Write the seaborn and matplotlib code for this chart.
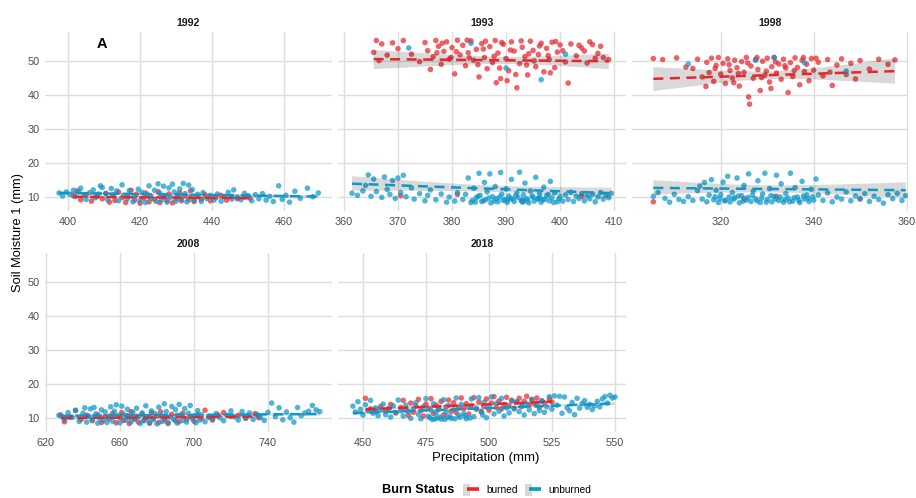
import matplotlib
matplotlib.use("Agg")
import matplotlib.pyplot as plt
import seaborn as sns
import pandas as pd
from matplotlib.lines import Line2D
from matplotlib.patches import Patch
from matplotlib.legend_handler import HandlerTuple

# ---------------- data ----------------
years = [1992, 1993, 1998, 2008, 2018]
statuses = ["burned", "unburned"]
x_label = "Precipitation (mm)"
y_label = "Soil Moisture 1 (mm)"
legend_title = "Burn Status"
y_ticks = [10, 20, 30, 40, 50]
x_ticks_1992 = [400, 420, 440, 460]
x_ticks_1993 = [360, 370, 380, 390, 400, 410]
x_ticks_1998 = [320, 340, 360]
x_ticks_2008 = [620, 660, 700, 740]
x_ticks_2018 = [450, 475, 500, 525, 550]

pts_1992_burned = [(401.5,10.4),(402.5,11.8),(403.5,9.2),(405,10.7),(406.5,8.8),(408,10.1),(409.5,9.5),(410.5,11.1),
    (411.5,8.5),(412.5,10.6),(413,9.0),(414,11.5),(415,9.8),(416,8.4),(416.5,10.3),(417.5,12.0),(418.5,9.1),(419,10.8),
    (420,8.2),(421,9.7),(421.5,11.2),(422.5,8.6),(423,10.2),(424,9.3),(425,11.6),(425.5,8.4),(426.5,10.0),(427.5,9.0),
    (428,10.9),(429,8.3),(430,9.6),(431,11.3),(431.5,8.9),(432.5,10.4),(433.5,9.2),(434,11.8),(435,8.7),(436,10.1),
    (437,9.4),(438,10.7),(439.5,8.9),(441,9.8),(442.5,10.5),(444,9.1),(445.5,10.2),(447,9.5),(449,10.0),(450.5,9.7)]
pts_1992_unburned = [(397.5,11.2),(398.5,10.3),(399.5,11.5),(400.5,10.8),(401.5,12.0),(402,10.1),(403,11.6),(403.5,12.6),
    (404.5,10.7),(405,9.3),(406,11.3),(407,12.1),(407.5,9.8),(408.5,10.9),(409,13.3),(409.5,12.8),(410.5,11.0),(411,9.2),
    (412,12.5),(412.5,10.4),(413.5,11.8),(414,8.9),(415,13.6),(415.5,10.6),(416.5,9.5),(417,11.9),(418,8.6),(418.5,10.2),
    (419.5,12.3),(420,9.0),(420.5,11.4),(421.5,8.4),(422,10.8),(422.5,13.3),(423,9.6),(424,12.0),(424.5,8.7),(425,13.9),
    (425.5,11.1),(426,9.2),(426.5,13.2),(427,10.3),(427.5,8.5),(428,12.7),(428.5,9.9),(429,13.8),(429.5,11.5),(430,8.8),
    (430.5,10.6),(431,12.4),(431.5,9.3),(432,14.0),(432.5,11.0),(433,8.6),(433.5,13.5),(434,10.1),(434.5,12.2),(435,9.0),
    (436,10.8),(437,8.7),(437.5,11.3),(438.5,9.6),(439.5,10.5),(440.5,9.1),(441.5,10.9),(442.5,8.8),(443.5,10.2),
    (444.5,11.4),(445.5,9.4),(446,12.1),(447,10.0),(448,9.2),(449,11.1),(450,10.4),(451,8.9),(452,10.7),(453,9.5),
    (454,11.0),(455,9.1),(456,10.2),(457,8.7),(458.5,13.3),(459.5,9.3),(460.5,10.5),(461.5,8.5),(463,11.7),(464.5,9.6),
    (466.5,12.6),(468,10.1),(469.5,11.2)]

pts_1993_burned = [(366,56.0),(365.5,52.5),(366.5,50.1),(367,55.0),(368,51.7),(369,55.3),(370,53.6),(371,56.0),
    (372.5,52.0),(374,49.8),(375,55.4),(375.5,53.0),(376,47.5),(376.5,51.2),(377,56.0),(377.5,54.3),(378,49.0),
    (378.5,52.8),(379,55.6),(379.5,50.5),(380,53.9),(380.5,46.2),(381,56.1),(381.5,51.8),(382,54.6),(382.5,48.6),
    (383,52.4),(383.5,55.9),(384,50.2),(384.5,53.4),(385,45.3),(385.5,55.1),(386,51.0),(386.5,47.7),(387,54.2),
    (387.5,49.5),(388,56.0),(388.5,52.3),(389,44.8),(389.5,54.9),(390,50.7),(390.5,47.1),(391,55.6),(391.5,52.9),
    (392,42.1),(392.5,49.2),(393,54.0),(393.5,51.3),(394,45.9),(394.5,55.8),(395,53.1),(395.5,48.3),(396,51.9),
    (396.5,55.2),(397,46.8),(397.5,53.7),(398,50.4),(398.5,55.5),(399,48.0),(399.5,52.6),(400,54.7),(401,49.7),
    (401.5,43.5),(402,55.0),(403,51.5),(404,53.8),(405,49.4),(406,54.8),(407,52.2),(408,51.0),(409,50.4),
    (378.2,55.2),(380.8,52.7),(383.2,50.9),(385.8,53.5),(387.8,51.4),(389.2,55.4),(390.8,53.2),(392.8,55.9),
    (394.2,52.1),(396.2,54.4),(397.8,51.6),(399.2,55.7),(400.5,53.0),(384.8,48.9),(388.8,47.9),(391.8,46.0),
    (393.8,48.8),(386.2,55.8),(382.8,56.1),(379.8,51.0),(377.2,52.4),(395.2,50.0),(398.2,46.5),(403.5,54.6),
    (388.2,43.6),(390.2,44.2),(405.5,55.6),(407.5,54.3),(406.5,50.8),(404.5,52.9),
    (370.5,10.4),(381,10.8),(393,9.0),(404,10.2)]
pts_1993_unburned = [(361.5,11.1),(362.5,10.5),(363.5,11.8),(364,13.4),(364.5,16.5),(365,10.2),(365.5,15.3),(366,11.6),
    (367,9.9),(367.5,15.9),(368,12.2),(368.5,10.8),(369,14.9),(369.5,9.6),(370,15.6),(370.5,11.3),(371,16.4),(371.5,10.1),
    (372.5,12.7),(373,9.4),(374,11.0),(375,8.9),(375.5,10.5),(376,12.1),(377,9.2),(378,10.9),(379,8.5),(379.5,10.0),
    (380.5,8.8),(381,11.3),
    (382,9.3),(382.5,10.8),(383,15.6),(383.5,8.4),(384,12.6),(384.5,9.8),(385,17.0),(385.2,10.5),(385.5,8.7),(386,14.3),
    (386.2,9.2),(386.5,11.5),(387,16.8),(387.2,8.3),(387.5,10.1),(388,13.1),(388.2,9.5),(388.5,8.6),(389,17.2),
    (389.2,10.8),(389.5,9.0),(390,12.4),(390.2,8.4),(390.5,10.3),(391,15.2),(391.2,9.4),(391.5,8.7),(392,11.1),
    (392.2,9.9),(392.5,17.3),(393,8.5),(393.2,10.6),(393.5,14.1),(394,9.1),(394.2,8.3),(394.5,11.8),(395,10.0),
    (395.2,8.8),(395.5,15.8),(396,9.6),(396.2,10.9),(396.5,8.5),(397,12.9),(397.2,9.3),(397.5,10.4),(398,8.9),
    (398.2,14.6),(398.5,9.8),(399,11.2),(399.5,8.6),(400,10.1),(383.8,9.0),(384.8,10.2),(386.8,9.7),(388.8,10.0),
    (390.8,9.6),(392.8,9.0),(394.8,10.3),(396.8,9.2),(385.8,8.9),(389.8,9.3),(391.8,10.4),(393.8,9.5),(395.8,9.4),
    (397.8,10.7),(399.8,9.5),(384.3,8.5),(387.8,8.8),(390.3,9.1),(393.3,8.7),(396.3,9.9),(398.8,8.4),
    (400.5,8.8),(401,10.6),(401.5,9.3),(402,11.4),(402.5,8.7),(403,10.2),(403.5,9.6),(404,11.0),(404.5,8.9),(405,10.3),
    (405.5,9.5),(406,10.9),(406.5,8.6),(407,10.0),(407.5,11.3),(408,9.4),(408.5,10.7),(409,9.8),(409.5,11.1),
    (372,53.8),(383.5,55.2),(390,47.9),(396.5,44.5),(401,52.0)]

pts_1998_burned = [(305.5,50.7),(307.5,50.4),(310.5,50.9),(312.5,48.2),(314,47.8),(315,50.5),(316,45.3),(317,49.6),
    (317.5,46.6),(318,50.8),(318.5,44.0),(319,48.7),(319.5,51.0),(320,46.1),(320.5,49.3),(321,43.4),(321.5,50.6),
    (322,47.2),(322.5,45.0),(323,50.2),(323.5,48.0),(324,42.6),(324.5,49.8),(325,46.7),(325.5,51.0),(326,39.4),
    (326.2,37.3),(326.5,48.5),(327,44.9),(327.5,50.4),(328,47.5),(328.5,41.3),(329,49.9),(329.5,45.8),(330,50.8),
    (330.5,43.8),(331,48.3),(331.5,51.0),(332,46.4),(332.5,49.1),(333,44.6),(333.5,50.5),(334,47.9),(334.5,40.7),
    (335,49.5),(335.5,45.4),(336,50.9),(336.5,48.1),(337,43.0),(337.5,50.2),(338,46.9),(338.5,49.0),(339,44.2),
    (339.5,50.7),(340,47.3),(341,49.6),(342,45.6),(343,50.4),(344,42.8),(345,48.8),(346,50.6),(347,46.0),(348,49.3),
    (349,44.7),(350,50.1),(352,47.6),(354,50.5),(356,49.0),(357.5,50.3),
    (318.8,47.8),(321.8,48.9),(323.8,46.3),(325.8,49.4),(327.8,51.0),(329.8,47.0),(331.8,49.7),(333.8,48.6),
    (335.8,47.2),(337.8,51.0),(322.8,43.6),(328.8,45.1),(330.8,41.9),(316.8,42.5),(340.5,50.8),(343.5,46.7),
    (305.5,8.6),(325,9.5),(332,10.2),(350,9.4)]
pts_1998_unburned = [(305.5,10.2),(306.5,11.3),(308,9.6),(309,8.5),(310,10.8),(311,9.3),(312,8.7),(313,10.1),(314,9.0),
    (315,11.9),(315.5,13.2),(316,9.4),(316.5,14.3),(317,8.6),(317.5,10.6),
    (318,15.1),(318.5,9.2),(319,12.0),(319.5,8.4),(320,10.7),(320.5,14.4),(321,9.0),(321.5,16.1),(322,8.6),(322.5,11.3),
    (323,9.8),(323.5,15.6),(324,8.3),(324.5,10.4),(325,13.4),(325.5,9.1),(326,16.8),(326.5,8.7),(327,11.7),(327.5,9.5),
    (328,14.8),(328.5,8.4),(329,10.9),(329.5,17.0),(330,9.3),(330.5,12.5),(331,8.6),(331.5,10.2),(332,16.4),(332.5,9.0),
    (333,13.9),(333.5,8.5),(334,11.0),(334.5,9.7),(335,17.0),(335.5,8.8),(336,12.8),(336.5,10.0),(337,8.4),(337.5,14.6),
    (338,9.4),(338.5,10.6),(339,8.7),(339.5,12.3),(340,9.1),(340.5,15.3),
    (318.8,10.1),(319.8,9.6),(320.8,8.9),(321.8,10.0),(322.8,9.4),(323.8,10.3),(324.8,8.8),(325.8,9.9),(326.8,10.5),
    (327.8,8.9),(328.8,9.7),(329.8,8.5),(330.8,10.4),(331.8,9.4),(332.8,10.0),(333.8,9.2),(334.8,8.6),(335.8,9.8),
    (336.8,9.0),(337.8,10.3),(338.8,9.6),(339.8,10.1),
    (341,10.6),(342,9.0),(343,11.2),(344,8.6),(345,10.0),(346,9.4),(347,11.5),(348,8.9),(349,10.3),(350,9.6),(351,11.0),
    (352,8.7),(353,10.2),(354,9.3),(355,8.2),(356,10.7),(357,9.5),(358,11.1),(359,9.0),(359.8,10.4),
    (313,49.1),(327.5,50.2),(331.5,51.0),(338,49.5),(347,47.0)]

pts_2008_burned = [(628,10.9),(630,8.9),(633,10.3),(636,12.2),(639,9.6),(642,10.8),(645,9.2),(648,11.0),(650,8.7),
    (652,10.4),(654,9.8),(656,11.3),(658,8.6),(660,10.1),(661,11.6),(662,9.3),(664,10.7),(665,8.4),(666,11.9),(668,9.7),
    (669,10.5),(670,8.8),(672,11.2),(673,9.4),(674,10.0),(676,8.5),(677,11.5),(678,9.9),(680,10.6),(681,8.7),(682,11.8),
    (684,9.5),(685,10.3),(686,8.4),(688,11.1),(690,9.2),(691,10.8),(692,8.9),(694,11.4),(696,9.7),(698,10.4),(700,9.1),
    (702,11.0),(704,9.8),(706,12.3),(708,10.2),(710,9.4),(713,10.9),(716,11.6),(720,10.5),(724,10.8),(728,9.9),
    (733,11.3),(735,10.1)]
pts_2008_unburned = [(627,10.8),(630,9.5),(632,11.6),(634,10.2),(636,12.3),(638,9.0),(640,11.4),(641,13.0),(642,8.8),
    (643,10.6),(644,12.7),(645,9.6),(646,13.1),(647,11.2),(648,8.5),(649,10.0),(650,12.4),(651,9.3),(652,11.8),(653,8.7),
    (654,10.5),(655,13.3),(656,9.1),(657,12.0),(658,13.9),(659,10.8),(660,8.6),(661,13.5),(662,11.0),(663,9.4),(664,12.6),
    (665,10.2),(666,8.9),(667,11.7),(668,9.8),(669,12.9),(670,10.4),(671,8.4),(672,11.5),(673,9.2),(674,13.6),(675,10.0),
    (676,8.6),(677,12.1),(678,9.5),(679,11.3),(680,8.3),(681,13.2),(682,10.7),(683,9.0),(684,14.2),(685,11.9),(686,8.7),
    (687,10.3),(688,13.4),(689,9.6),(690,12.5),(691,8.5),(692,14.0),(693,10.9),(694,9.3),(695,12.8),(696,8.8),(697,11.4),
    (698,13.7),(699,9.9),(700,10.6),(701,8.6),(702,12.2),(703,9.4),(704,11.0),(706,8.9),(708,10.5),(710,9.7),(712,11.3),
    (714,10.1),(716,9.2),(718,10.8),(720,12.1),(722,10.3),(724,9.4),(726,11.9),(728,10.0),(730,11.5),(732,9.6),(734,11.1),
    (736,10.2),(738,9.3),(740,11.7),(742,14.4),(744,10.4),(746,13.0),(748,9.5),(750,11.8),(752,10.1),(754,8.8),(756,13.1),
    (758,10.7),(760,11.5),(762,12.0),(764,13.7),(766,12.4),(768,11.9)]

pts_2018_burned = [(451,15.8),(453,12.7),(455,11.9),(457,13.4),(459,12.1),(461,14.0),(463,11.5),(465,13.1),(466,15.2),
    (467,12.4),(468,10.8),(469,14.4),(470,11.7),(471,13.6),(472,15.5),(473,12.2),(474,10.6),(475,14.1),(476,12.9),
    (477,15.7),(478,11.3),(479,13.8),(480,12.5),(481,14.9),(482,10.9),(483,13.3),(484,15.3),(485,12.0),(486,14.5),
    (487,11.6),(488,13.0),(489,15.9),(490,12.8),(491,14.2),(492,11.2),(493,13.7),(494,16.0),(495,12.6),(496,14.7),
    (497,11.9),(498,13.5),(499,15.6),(500,12.3),(501,14.4),(502,16.3),(503,13.1),(504,15.0),(505,12.7),(506,14.0),
    (507,16.1),(508,13.6),(509,15.2),(510,12.9),(511,14.6),(512,15.8),(513,13.4),(514,14.9),(515,16.4),(516,13.8),
    (517,15.4),(518,14.3),(519,15.9),(520,13.2),(521,15.1),(522,14.5),(524,15.6),(525,14.7)]
pts_2018_unburned = [(446,13.5),(447,11.8),(448,14.8),(449,12.6),(450,10.9),(451,13.9),(452,12.2),(453,15.2),(454,11.4),
    (455,13.0),(456,10.7),(457,12.4),(458,14.1),(459,11.0),(460,12.8),(461,10.3),(462,13.6),(463,11.6),(464,15.3),
    (465,12.1),(466,10.6),(467,13.8),(468,11.9),(469,9.9),(470,12.7),(471,14.5),(472,11.1),(473,9.8),(474,13.4),
    (475,15.7),(476,10.5),(477,12.3),(477.5,9.6),(478,14.2),(479,11.5),(479.5,10.0),(480,13.1),(481,9.7),(482,15.4),
    (483,11.7),(483.5,10.2),(484,13.7),(485,9.9),(486,12.5),(487,15.9),(488,10.8),(489,14.0),(490,11.3),(491,9.8),
    (492,13.2),(493,15.6),(494,10.4),(495,12.9),(496,16.0),(497,11.8),(498,14.6),(499,10.1),(500,13.5),(501,16.2),
    (502,11.2),(503,14.3),(504,12.0),(505,15.8),(506,10.6),(507,13.0),(508,11.5),(509,15.1),(510,12.7),(511,14.8),
    (512,11.9),(513,13.6),(514,10.9),(515,14.1),(516,12.4),(517,15.5),(518,11.3),(519,13.9),(520,12.2),(521,15.0),
    (522,11.7),(523,13.3),(524,16.3),(525,12.6),(526,16.5),(527,13.8),(528,16.4),(529,11.4),(530,16.2),(531,13.0),
    (532,12.1),(533,14.6),(534,11.0),(535,15.8),(536,12.9),(537,14.3),(538,15.1),(539,13.2),(540,14.0),(541,12.5),
    (542,13.6),(543,14.9),(544,13.3),(545,15.6),(546,16.3),(547,14.4),(548,16.7),(549,15.9),(550,16.2),
    (476.5,10.1),(478.5,9.7),(480.5,10.3),(482.5,9.6),(484.5,10.5),(486.5,9.8),(488.5,10.2),(490.5,10.6),(492.5,10.0),
    (497.5,10.9)]

# ---------------- build table ----------------
series = {
    (1992, "burned"): pts_1992_burned, (1992, "unburned"): pts_1992_unburned,
    (1993, "burned"): pts_1993_burned, (1993, "unburned"): pts_1993_unburned,
    (1998, "burned"): pts_1998_burned, (1998, "unburned"): pts_1998_unburned,
    (2008, "burned"): pts_2008_burned, (2008, "unburned"): pts_2008_unburned,
    (2018, "burned"): pts_2018_burned, (2018, "unburned"): pts_2018_unburned,
}
rows = []
for (yr, st), pts in series.items():
    for px, py in pts:
        rows.append({"year": yr, "status": st, "precip": px, "moisture": py})
df = pd.DataFrame(rows)

# ---------------- styling ----------------
plt.rcParams["font.family"] = ["Liberation Sans", "DejaVu Sans"]
RED = "#E8252C"
BLUE = "#0D97CA"
palette = {"burned": RED, "unburned": BLUE}
TICK_COLOR = "#4D4D4D"
GRID_COLOR = "#DEDEDE"

W, H = 916, 498
fig = plt.figure(figsize=(W / 100, H / 100), dpi=100)

def frac_box(left, top, right, bottom):
    return [left / W, 1 - bottom / H, (right - left) / W, (bottom - top) / H]

panel_boxes = {
    1992: frac_box(45, 32, 332, 211),
    1993: frac_box(338, 32, 626, 211),
    1998: frac_box(632, 32, 908, 211),
    2008: frac_box(45, 253, 332, 432),
    2018: frac_box(338, 253, 626, 432),
}
xlims = {1992: (393.6, 473.3), 1993: (358.9, 412.2), 1998: (300.9, 360.3),
         2008: (619.5, 774.6), 2018: (440.1, 554.4)}
xticks = {1992: x_ticks_1992, 1993: x_ticks_1993, 1998: x_ticks_1998,
          2008: x_ticks_2008, 2018: x_ticks_2018}
ylim = (5.9, 58.5)

for yr in years:
    ax = fig.add_axes(panel_boxes[yr])
    sub = df[df["year"] == yr]
    sns.scatterplot(data=sub, x="precip", y="moisture", hue="status", palette=palette,
                    hue_order=statuses, s=16, alpha=0.72, linewidth=0, legend=False, ax=ax)
    for st in statuses:
        d = sub[sub["status"] == st]
        # grey confidence band
        sns.regplot(data=d, x="precip", y="moisture", scatter=False, ci=80, seed=1,
                    color="black", line_kws={"alpha": 0}, ax=ax)
    for st in statuses:
        d = sub[sub["status"] == st]
        sns.regplot(data=d, x="precip", y="moisture", scatter=False, ci=None,
                    color=palette[st],
                    line_kws={"linestyle": (0, (4, 2.6)), "linewidth": 1.8, "zorder": 4}, ax=ax)
    ax.set_xlim(*xlims[yr])
    ax.set_ylim(*ylim)
    ax.set_xticks(xticks[yr])
    ax.set_yticks(y_ticks)
    ax.set_xlabel("")
    ax.set_ylabel("")
    for sp in ax.spines.values():
        sp.set_visible(False)
    ax.grid(True, color=GRID_COLOR, linewidth=1.0)
    ax.set_axisbelow(True)
    ax.tick_params(length=0, labelsize=7.8, labelcolor=TICK_COLOR, pad=4)
    if yr not in (1992, 2008):
        ax.tick_params(labelleft=False)
    ax.set_title(str(yr), fontsize=7.6, fontweight="bold", color="#1A1A1A", pad=4)
    if yr == 1992:
        ax.text(409.5, 55.0, "A", fontsize=10.5, fontweight="bold", color="black",
                ha="center", va="center")

fig.text(18 / W, 1 - 232 / H, y_label, rotation=90, ha="center", va="center",
         fontsize=9.3, color="black")
fig.text(486 / W, 1 - 458 / H, x_label, ha="center", va="center", fontsize=9.5, color="black")

fig.text(454 / W, 1 - 490 / H, legend_title, ha="right", va="center",
         fontsize=9.2, fontweight="bold", color="black")
handles = []
for st in statuses:
    handles.append((Patch(facecolor="#D9D9D9", edgecolor="none"),
                    Line2D([], [], linestyle="none", marker="_", markersize=8,
                           markeredgewidth=2.6, color=palette[st])))
fig.legend(handles, statuses, loc="center left", bbox_to_anchor=(458 / W, 1 - 490 / H),
           ncol=2, frameon=False, fontsize=7.3, handlelength=1.3, handleheight=1.5,
           handletextpad=1.0, columnspacing=0.7, borderpad=0,
           handler_map={tuple: HandlerTuple(ndivide=None)})

fig.savefig("out.png", dpi=100)
